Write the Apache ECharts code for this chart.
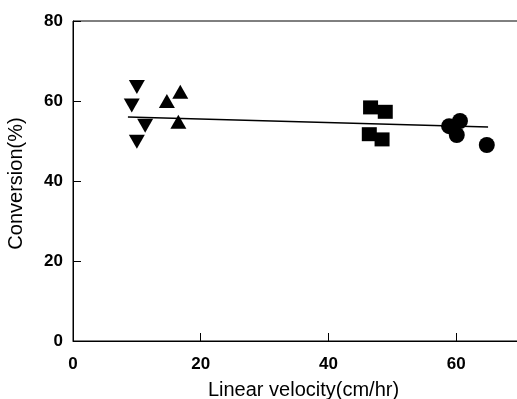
<!DOCTYPE html>
<html>
<head>
<meta charset="utf-8">
<script src="https://cdn.jsdelivr.net/npm/echarts@6/dist/echarts.min.js"></script>
<style>
  html, body { margin: 0; padding: 0; background: #fff; }
  #chart { width: 517px; height: 399px; }
</style>
</head>
<body>
<div id="chart"></div>
<script>
// values
const downX = [10.0, 9.2, 11.3, 10.0];
const downY = [63.5, 58.9, 53.8, 49.8];
const upX = [14.7, 16.8, 16.5];
const upY = [60.0, 62.3, 54.8];
const squareX = [46.6, 48.9, 46.4, 48.4];
const squareY = [58.4, 57.3, 51.7, 50.4];
const circleX = [58.9, 60.6, 60.1, 64.8];
const circleY = [53.7, 55.0, 51.5, 49.0];
const fitX = [8.6, 65.0];
const fitY = [56.0, 53.5];

const xTicks = [0, 20, 40, 60];
const yTicks = [0, 20, 40, 60, 80];

function pairs(xs, ys) {
  return xs.map((x, i) => [x, ys[i]]);
}

const font = "'Liberation Sans', Arial, sans-serif";

const axis_style = {
  axisLine: { lineStyle: { color: "#000", width: 1 } },
  axisTick: { inside: true, length: 8, lineStyle: { color: "#000" } },
  splitLine: { show: false },
  nameLocation: "middle",
  axisLabel: {
    fontFamily: font, fontSize: 17, fontWeight: "bold", color: "#000",
    showMaxLabel: false
  }
};

const scatter = (xs, ys, symbol, size, rotate) => ({
  type: "scatter",
  data: pairs(xs, ys),
  symbol,
  symbolSize: size,
  symbolRotate: rotate || 0,
  itemStyle: { color: "#000", opacity: 1 },
  z: 3
});

const chart = echarts.init(document.getElementById("chart"));
chart.setOption({
  animation: false,
  backgroundColor: "#fff",
  grid: {
    show: true,
    left: 73,
    top: 21,
    right: -3,
    bottom: 58,
    outerBoundsMode: "none",
    containLabel: false,
    borderColor: "#000",
    borderWidth: 1
  },
  xAxis: Object.assign({}, axis_style, {
    type: "value",
    min: 0,
    max: 70,
    interval: 20,
    name: "Linear velocity(cm/hr)",
    nameGap: 39,
    nameTextStyle: { fontFamily: font, fontSize: 20, color: "#000", padding: [0, 0, 0, 14] },
    axisLabel: Object.assign({}, axis_style.axisLabel, {
      margin: 15,
      formatter: v => (xTicks.includes(v) ? String(v) : "")
    })
  }),
  yAxis: Object.assign({}, axis_style, {
    type: "value",
    min: 0,
    max: 80,
    interval: 20,
    name: "Conversion(%)",
    nameGap: 47,
    nameTextStyle: { fontFamily: font, fontSize: 20, color: "#000", padding: [0, 5, 0, 0] },
    axisLabel: Object.assign({}, axis_style.axisLabel, {
      margin: 10,
      showMaxLabel: true,
      formatter: v => (yTicks.includes(v) ? String(v) : "")
    })
  }),
  series: [
    {
      type: "line",
      data: pairs(fitX, fitY),
      showSymbol: false,
      lineStyle: { color: "#000", width: 1.5 },
      z: 2
    },
    scatter(downX, downY, "triangle", [16, 14], 180),
    scatter(upX, upY, "triangle", [16, 14]),
    scatter(squareX, squareY, "rect", [15, 14]),
    scatter(circleX, circleY, "circle", 16)
  ]
});
</script>
</body>
</html>
